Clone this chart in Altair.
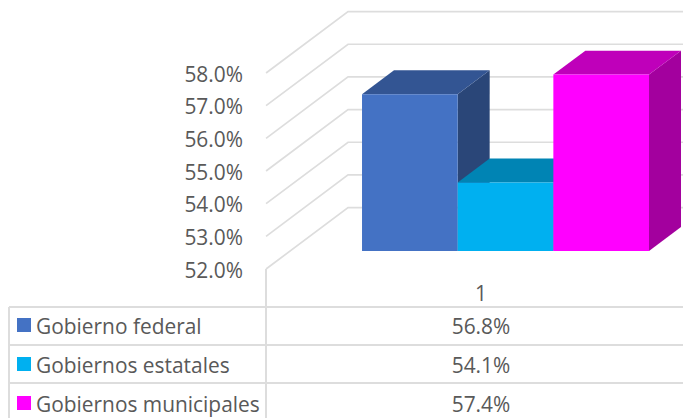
import altair as alt
import pandas as pd

categories = ["Gobierno federal", "Gobiernos estatales", "Gobiernos municipales"]
values = [56.8, 54.1, 57.4]
value_labels = ["56.8%", "54.1%", "57.4%"]
front_colors = ["#4472C4", "#00B0F0", "#FF00FF"]
top_colors = ["#335593", "#0084B4", "#BF00BA"]
side_colors = ["#2A4678", "#006C94", "#A3009E"]
ticks = [52, 53, 54, 55, 56, 57, 58]
category_label = "1"

# Oblique projection of the 3-D chart: depth z in 0..1 shifts x and value
DEPTH_X = 0.857
DEPTH_Y = 1.88
WALL_X = -0.752
END_X = 4.0
BAR_Z0 = 0.293
BAR_Z1 = 0.683

FONT = "Open Sans"
FS = 20.9
TXT = "#595959"
LINE = "#DDDDDD"
H = 410

x_scale = alt.Scale(domain=[0, 3], range=[330, 617], zero=False, nice=False)
y_scale = alt.Scale(domain=[52, 58], range=[261, 65], zero=False, nice=False)
X = alt.X("x:Q", scale=x_scale, axis=None)
Y = alt.Y("y:Q", scale=y_scale, axis=None)

layers = []

# gridlines: left wall + back wall
for t in ticks:
    g = pd.DataFrame({
        "x": [WALL_X, WALL_X + DEPTH_X, END_X],
        "y": [t, t + DEPTH_Y, t + DEPTH_Y],
    })
    layers.append(alt.Chart(g).mark_line(color=LINE, strokeWidth=1.7, clip=True).encode(x=X, y=Y))

# bars, painted left to right: side, top, front
for i, v in enumerate(values):
    x0 = i + DEPTH_X * BAR_Z0
    x1 = x0 + 1
    dx = DEPTH_X * (BAR_Z1 - BAR_Z0)
    dy = DEPTH_Y * (BAR_Z1 - BAR_Z0)
    base = 52 + DEPTH_Y * BAR_Z0
    top = v + DEPTH_Y * BAR_Z0
    side = pd.DataFrame({
        "x": [x1, x1 + dx], "y": [base, base + dy], "y2": [top, top + dy],
    })
    roof = pd.DataFrame({
        "x": [x0, x0 + dx, x1, x1 + dx],
        "y": [top, top, top, top + dy],
        "y2": [top, top + dy, top + dy, top + dy],
    })
    face = pd.DataFrame({"x": [x0], "x2": [x1], "y": [base], "y2": [top]})
    layers.append(alt.Chart(side).mark_area(color=side_colors[i]).encode(x=X, y=Y, y2="y2:Q"))
    layers.append(alt.Chart(roof).mark_area(color=top_colors[i]).encode(x=X, y=Y, y2="y2:Q"))
    layers.append(alt.Chart(face).mark_rect(color=front_colors[i]).encode(x=X, x2="x2:Q", y=Y, y2="y2:Q"))

# value-axis labels
tick_df = pd.DataFrame({"y": ticks, "label": [f"{t:.1f}%" for t in ticks]})
layers.append(
    alt.Chart(tick_df).mark_text(align="right", baseline="middle", font=FONT, fontSize=FS, color=TXT, dy=2.5)
    .encode(x=alt.value(235), y=Y, text="label:N")
)

# data table lines
def hline(y, x1=1, x2=675):
    return alt.Chart(pd.DataFrame({"a": [0]})).mark_rule(color=LINE, strokeWidth=2).encode(
        x=alt.value(x1), x2=alt.value(x2), y=alt.value(y))

def vline(x, y1, y2):
    return alt.Chart(pd.DataFrame({"a": [0]})).mark_rule(color=LINE, strokeWidth=2).encode(
        x=alt.value(x), y=alt.value(y1), y2=alt.value(y2))

for yy in [299, 337, 375]:
    layers.append(hline(yy))
layers.append(vline(1, 299, H))
layers.append(vline(258, 261, H))

# table contents
table = pd.DataFrame({"name": categories, "label": value_labels})
row_y = alt.Y("name:N", scale=alt.Scale(type="point", domain=categories, range=[317, 395], padding=0), axis=None)
layers.append(
    alt.Chart(table).mark_text(align="left", baseline="middle", font=FONT, fontSize=FS, color=TXT, dy=2.5)
    .encode(x=alt.value(28), y=row_y, text="name:N")
)
layers.append(
    alt.Chart(table).mark_text(align="center", baseline="middle", font=FONT, fontSize=FS, color=TXT, dy=2.5)
    .encode(x=alt.value(473), y=row_y, text="label:N")
)
layers.append(
    alt.Chart(table).mark_square(size=196, opacity=1)
    .encode(
        x=alt.value(16), y=row_y,
        color=alt.Color("name:N", scale=alt.Scale(domain=categories, range=front_colors), legend=None),
    )
)
layers.append(
    alt.Chart(pd.DataFrame({"t": [category_label]}))
    .mark_text(align="center", baseline="middle", font=FONT, fontSize=FS, color=TXT, dy=2)
    .encode(x=alt.value(473), y=alt.value(285), text="t:N")
)

chart = (
    alt.layer(*layers)
    .resolve_scale(y="independent")
    .properties(width=675, height=H, padding=0, autosize=alt.AutoSizeParams(type="none"), background="white")
    .configure_view(stroke=None)
)

chart.save("out.html", embed_options={"renderer": "svg", "actions": False})
